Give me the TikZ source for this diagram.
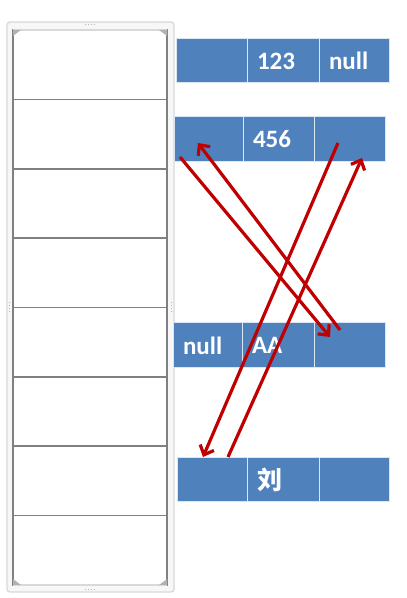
\documentclass[tikz,border=0pt]{standalone}
\usepackage{fontspec}
\setmainfont{Carlito}
\newfontfamily\cjkfont{Noto Sans CJK SC}
\usetikzlibrary{arrows.meta,calc}
\definecolor{cellblue}{HTML}{4F81BD}
\definecolor{arrowred}{HTML}{C00000}
\definecolor{slotgray}{HTML}{808080}
\begin{document}
\begin{tikzpicture}[x=1pt,y=1pt,
  cell/.style={fill=cellblue, draw=white!80!cellblue, line width=1pt, outer sep=0pt,
    inner xsep=10pt, inner ysep=0pt, align=left, text=white,
    font=\fontsize{25}{28}\selectfont\bfseries},
  slot/.style={draw=slotgray, line width=1.6pt, fill=white, outer sep=0pt,
    minimum width=154pt, minimum height=69.375pt, inner sep=0pt},
  link/.style={draw=arrowred, line width=3.2pt,
    -{Straight Barb[length=8pt,width=15pt,line width=3.2pt]}},
  handle/.style={fill=gray!60, draw=none}]
\useasboundingbox (0,0) rectangle (407,598);
% stack frame
\draw[draw=gray!30, line width=1.4pt, fill=gray!6, rounded corners=3pt] (7,6) rectangle (174,576);
\foreach \k in {1,...,8}{
  \node[slot] (s\k) at (90,{568-69.375*(\k-0.5)}) {};
}
\draw[gray!30, line width=1.6pt] (s1.north west) -- (s1.north east);
\draw[gray!30, line width=1.6pt] (s8.south west) -- (s8.south east);
% corner handles and grip dots
\fill[handle] (s1.north west) -- ++(8pt,0) -- ++(-8pt,-6pt) -- cycle;
\fill[handle] (s1.north east) -- ++(-8pt,0) -- ++(8pt,-6pt) -- cycle;
\fill[handle] (s8.south west) -- ++(8pt,0) -- ++(-8pt,6pt) -- cycle;
\fill[handle] (s8.south east) -- ++(-8pt,0) -- ++(8pt,6pt) -- cycle;
\foreach \dx in {-4.5,-1.5,1.5,4.5}{
  \fill[gray!55] (90+\dx,573.5) circle (0.7pt);
  \fill[gray!55] (90+\dx,8.5) circle (0.7pt);
}
\foreach \dy in {-4.5,-1.5,1.5,4.5}{
  \fill[gray!55] (9.5,291+\dy) circle (0.7pt);
  \fill[gray!55] (171.5,291+\dy) circle (0.7pt);
}
% row 1
\node[cell, minimum height=44pt, text width=51pt] (r1a) at (211.5,537) {};
\node[cell, minimum height=44pt, text width=52pt] (r1b) at (283,537) {123};
\node[cell, minimum height=44pt, text width=50pt] (r1c) at (354,537) {null};
% row 2
\node[cell, minimum height=45pt, text width=49pt] (r2a) at (208.5,458.5) {};
\node[cell, minimum height=45pt, text width=51pt] (r2b) at (278.5,458.5) {456};
\node[cell, minimum height=45pt, text width=51pt] (r2c) at (349.5,458.5) {};
% row 3
\node[cell, minimum height=45pt, text width=49pt] (r3a) at (207.5,252.5) {null};
\node[cell, minimum height=45pt, text width=52pt] (r3b) at (278,252.5) {AA};
\node[cell, minimum height=45pt, text width=51pt] (r3c) at (349.5,252.5) {};
% row 4
\node[cell, minimum height=44pt, text width=50pt] (r4a) at (212,118) {};
\node[cell, minimum height=44pt, text width=52pt] (r4b) at (283,118) {\cjkfont 刘};
\node[cell, minimum height=44pt, text width=50pt] (r4c) at (354,118) {};
% arrow end points
\coordinate (p1s) at ($(r2a.south west)+(6pt,5pt)$);
\coordinate (p1e) at ($(r3c.north west)+(16pt,-14pt)$);
\coordinate (p2s) at ($(r3c.north west)+(26pt,-7pt)$);
\coordinate (p2e) at ($(r2a.south west)+(24pt,19pt)$);
\coordinate (p3s) at ($(r2c.south west)+(24pt,19pt)$);
\coordinate (p3e) at ($(r4a.north west)+(26pt,1pt)$);
\coordinate (p4s) at ($(r4a.north west)+(51pt,1pt)$);
\coordinate (p4e) at ($(r2c.south west)+(48pt,4pt)$);
\draw[link] (p1s) -- (p1e);
\draw[link] (p2s) -- (p2e);
\draw[link] (p3s) -- (p3e);
\draw[link] (p4s) -- (p4e);
\end{tikzpicture}
\end{document}
